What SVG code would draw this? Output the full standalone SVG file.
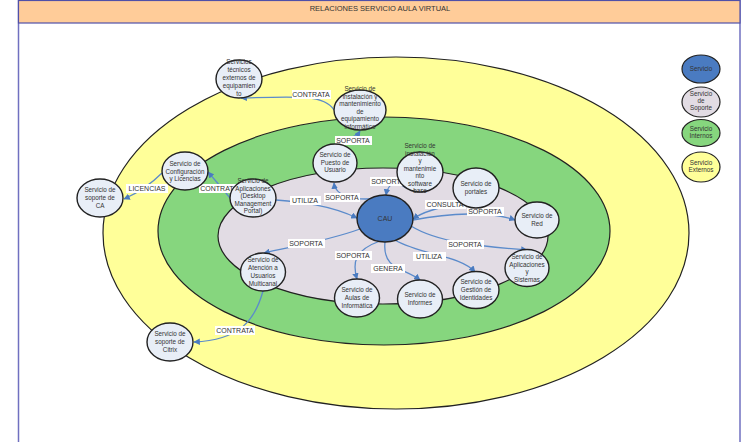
<svg xmlns="http://www.w3.org/2000/svg" width="744" height="442" viewBox="0 0 744 442">
<style>
.node{fill:#E8EEF7;stroke:#222;stroke-width:1.4}
.nt{font-family:"Liberation Sans",Arial,sans-serif;font-size:6.3px;fill:#333;text-anchor:middle}
.lbl{font-family:"Liberation Sans",Arial,sans-serif;font-size:7px;fill:#333;text-anchor:middle}
.lb{fill:#fff}
.con{fill:none;stroke:#5B8BCB;stroke-width:1.3}
</style>
<defs>
<marker id="ah" viewBox="0 0 10 10" refX="9" refY="5" markerWidth="5" markerHeight="5" orient="auto">
<path d="M0,0 L10,5 L0,10 z" fill="#4A7BC0"/>
</marker>
</defs>
<rect x="0" y="0" width="744" height="442" fill="#fff"/>
<g id="frame">
<rect x="18.5" y="0.5" width="721.5" height="445" fill="#fff" stroke="#7070C0" stroke-width="1.5"/>
<rect x="18.5" y="0.5" width="721.5" height="22.5" fill="#FFCC99" stroke="#5050A8" stroke-width="1.2"/>
<text x="380" y="11" class="lbl" style="font-size:7.5px">RELACIONES SERVICIO AULA VIRTUAL</text>
</g>
<g id="zones">
<ellipse cx="396" cy="233" rx="293" ry="176" fill="#FFFF99" stroke="#222" stroke-width="1.2"/>
<ellipse cx="384" cy="231" rx="226" ry="114" fill="#86D67E" stroke="#222" stroke-width="1.2"/>
<ellipse cx="383" cy="236" rx="165" ry="68" fill="#E2DCE4" stroke="#222" stroke-width="1.2"/>
</g>
<g id="connectors">
<path class="con" d="M334,110 C325,95 300,96 241,98" marker-end="url(#ah)"/>
<path class="con" d="M336,144 C345,138 355,139 360,131" marker-end="url(#ah)"/>
<path class="con" d="M162,173 C150,185 140,192 124,199" marker-end="url(#ah)"/>
<path class="con" d="M230,198 C222,188 215,180 208,172" marker-end="url(#ah)"/>
<path class="con" d="M385,196 C370,201 336,201 334,183" marker-end="url(#ah)"/>
<path class="con" d="M276,200 C300,202 330,205 357,218" marker-end="url(#ah)"/>
<path class="con" d="M406,188 C396,180 388,183 386,195" marker-end="url(#ah)"/>
<path class="con" d="M462,203 C445,206 425,210 413,219" marker-end="url(#ah)"/>
<path class="con" d="M413,220 C450,213 490,211 515,220" marker-end="url(#ah)"/>
<path class="con" d="M411,226 C440,244 490,247 527,250" marker-end="url(#ah)"/>
<path class="con" d="M395,240 C420,255 460,255 475,272" marker-end="url(#ah)"/>
<path class="con" d="M385,242 C382,270 405,268 420,280" marker-end="url(#ah)"/>
<path class="con" d="M380,241 C355,250 352,262 357,279" marker-end="url(#ah)"/>
<path class="con" d="M360,229 C330,240 300,245 264,253" marker-end="url(#ah)"/>
<path class="con" d="M263,291 C255,320 240,340 194,342" marker-end="url(#ah)"/>
<g id="labels">
<rect class="lb" x="292" y="90" width="39" height="9"/><text class="lbl" x="311" y="97">CONTRATA</text>
<rect class="lb" x="335" y="136" width="37" height="9"/><text class="lbl" x="353" y="143">SOPORTA</text>
<rect class="lb" x="126" y="184" width="42" height="9"/><text class="lbl" x="147" y="191">LICENCIAS</text>
<rect class="lb" x="199" y="184" width="40" height="9"/><text class="lbl" x="219" y="191">CONTRATA</text>
<rect class="lb" x="290" y="196" width="31" height="9"/><text class="lbl" x="305" y="203">UTILIZA</text>
<rect class="lb" x="324" y="193" width="36" height="9"/><text class="lbl" x="342" y="200">SOPORTA</text>
<rect class="lb" x="370" y="177" width="37" height="9"/><text class="lbl" x="388" y="184">SOPORTA</text>
<rect class="lb" x="425" y="200" width="41" height="9"/><text class="lbl" x="445" y="207">CONSULTA</text>
<rect class="lb" x="467" y="207" width="37" height="9"/><text class="lbl" x="485" y="214">SOPORTA</text>
<rect class="lb" x="447" y="240" width="37" height="9"/><text class="lbl" x="465" y="247">SOPORTA</text>
<rect class="lb" x="288" y="239" width="37" height="9"/><text class="lbl" x="306" y="246">SOPORTA</text>
<rect class="lb" x="335" y="251" width="37" height="9"/><text class="lbl" x="353" y="258">SOPORTA</text>
<rect class="lb" x="413" y="252" width="33" height="9"/><text class="lbl" x="429" y="259">UTILIZA</text>
<rect class="lb" x="371" y="264" width="34" height="9"/><text class="lbl" x="388" y="271">GENERA</text>
<rect class="lb" x="215" y="326" width="40" height="9"/><text class="lbl" x="235" y="333">CONTRATA</text>
</g>
</g>
<g id="n1"><ellipse class="node" cx="239" cy="79" rx="23" ry="19"/>
<text class="nt" x="239" y="64">Servicios</text><text class="nt" x="239" y="72">técnicos</text><text class="nt" x="239" y="80">externos de</text><text class="nt" x="239" y="88">equipamien</text><text class="nt" x="239" y="96">to</text></g>
<g id="n2"><ellipse class="node" cx="360" cy="110" rx="26" ry="20"/>
<text class="nt" x="360" y="91">Servicio de</text><text class="nt" x="360" y="98.5">instalación y</text><text class="nt" x="360" y="106">mantenimiento</text><text class="nt" x="360" y="113.5">de</text><text class="nt" x="360" y="121">equipamiento</text><text class="nt" x="360" y="128.5">informático</text></g>
<g id="n3"><ellipse class="node" cx="185" cy="171" rx="23" ry="19"/>
<text class="nt" x="185" y="166">Servicio de</text><text class="nt" x="185" y="173.5">Configuración</text><text class="nt" x="185" y="181">y Licencias</text></g>
<g id="n4"><ellipse class="node" cx="100" cy="198" rx="23" ry="19"/>
<text class="nt" x="100" y="192">Servicio de</text><text class="nt" x="100" y="200">soporte de</text><text class="nt" x="100" y="208">CA</text></g>
<g id="n5"><ellipse class="node" cx="253" cy="198" rx="23" ry="19"/>
<text class="nt" x="253" y="183">Servicio de</text><text class="nt" x="253" y="190.5">Aplicaciones</text><text class="nt" x="253" y="198">(Desktop</text><text class="nt" x="253" y="205.5">Management</text><text class="nt" x="253" y="213">Portal)</text></g>
<g id="n6"><ellipse class="node" cx="335" cy="163" rx="22" ry="19"/>
<text class="nt" x="335" y="157">Servicio de</text><text class="nt" x="335" y="164.5">Puesto de</text><text class="nt" x="335" y="172">Usuario</text></g>
<g id="n7"><ellipse class="node" cx="420" cy="172" rx="23" ry="20"/>
<text class="nt" x="420" y="148">Servicio de</text><text class="nt" x="420" y="155.5">instalación</text><text class="nt" x="420" y="163">y</text><text class="nt" x="420" y="170.5">mantenimie</text><text class="nt" x="420" y="178">nto</text><text class="nt" x="420" y="185.5">software</text><text class="nt" x="420" y="193">base</text></g>
<g id="n8"><ellipse class="node" cx="476" cy="188" rx="23" ry="20"/>
<text class="nt" x="476" y="186">Servicio de</text><text class="nt" x="476" y="194">portales</text></g>
<g id="n9"><ellipse class="node" cx="537" cy="220" rx="22" ry="18"/>
<text class="nt" x="537" y="218">Servicio de</text><text class="nt" x="537" y="226">Red</text></g>
<g id="n10"><ellipse class="node" cx="527" cy="268" rx="22" ry="18.5"/>
<text class="nt" x="527" y="259">Servicio de</text><text class="nt" x="527" y="266.5">Aplicaciones</text><text class="nt" x="527" y="274">y</text><text class="nt" x="527" y="281.5">Sistemas</text></g>
<g id="n11"><ellipse class="node" cx="476" cy="290" rx="23" ry="18.5"/>
<text class="nt" x="476" y="284">Servicio de</text><text class="nt" x="476" y="292">Gestión de</text><text class="nt" x="476" y="300">Identidades</text></g>
<g id="n12"><ellipse class="node" cx="420" cy="299" rx="22.5" ry="19"/>
<text class="nt" x="420" y="297">Servicio de</text><text class="nt" x="420" y="305">Informes</text></g>
<g id="n13"><ellipse class="node" cx="357" cy="298" rx="22.5" ry="19"/>
<text class="nt" x="357" y="292">Servicio de</text><text class="nt" x="357" y="300">Aulas de</text><text class="nt" x="357" y="308">Informática</text></g>
<g id="n14"><ellipse class="node" cx="263" cy="272" rx="22.5" ry="19"/>
<text class="nt" x="263" y="262">Servicio de</text><text class="nt" x="263" y="270">Atención a</text><text class="nt" x="263" y="278">Usuarios</text><text class="nt" x="263" y="286">Multicanal</text></g>
<g id="n15"><ellipse class="node" cx="170" cy="342" rx="23" ry="19"/>
<text class="nt" x="170" y="336">Servicio de</text><text class="nt" x="170" y="344">soporte de</text><text class="nt" x="170" y="352">Citrix</text></g>
<g id="center"><ellipse cx="385" cy="218.5" rx="28" ry="23.5" fill="#4A7BC1" stroke="#222" stroke-width="1.4"/>
<text class="nt" x="385" y="221" style="font-size:7px">CAU</text></g>
<g id="legend">
<g id="leg1"><ellipse cx="701" cy="69" rx="19" ry="14" fill="#4A7BC1" stroke="#222" stroke-width="1.2"/><text class="nt" x="701" y="71">Servicio</text></g>
<g id="leg2"><ellipse cx="701" cy="102" rx="19" ry="15" fill="#E2DCE4" stroke="#222" stroke-width="1.2"/><text class="nt" x="701" y="96">Servicio</text><text class="nt" x="701" y="103">de</text><text class="nt" x="701" y="110">Soporte</text></g>
<g id="leg3"><ellipse cx="701" cy="133" rx="19" ry="13.5" fill="#86D67E" stroke="#222" stroke-width="1.2"/><text class="nt" x="701" y="131">Servicio</text><text class="nt" x="701" y="138">Internos</text></g>
<g id="leg4"><ellipse cx="701" cy="167" rx="19" ry="15" fill="#FFFF99" stroke="#222" stroke-width="1.2"/><text class="nt" x="701" y="165">Servicio</text><text class="nt" x="701" y="172">Externos</text></g>
</g>
</svg>
